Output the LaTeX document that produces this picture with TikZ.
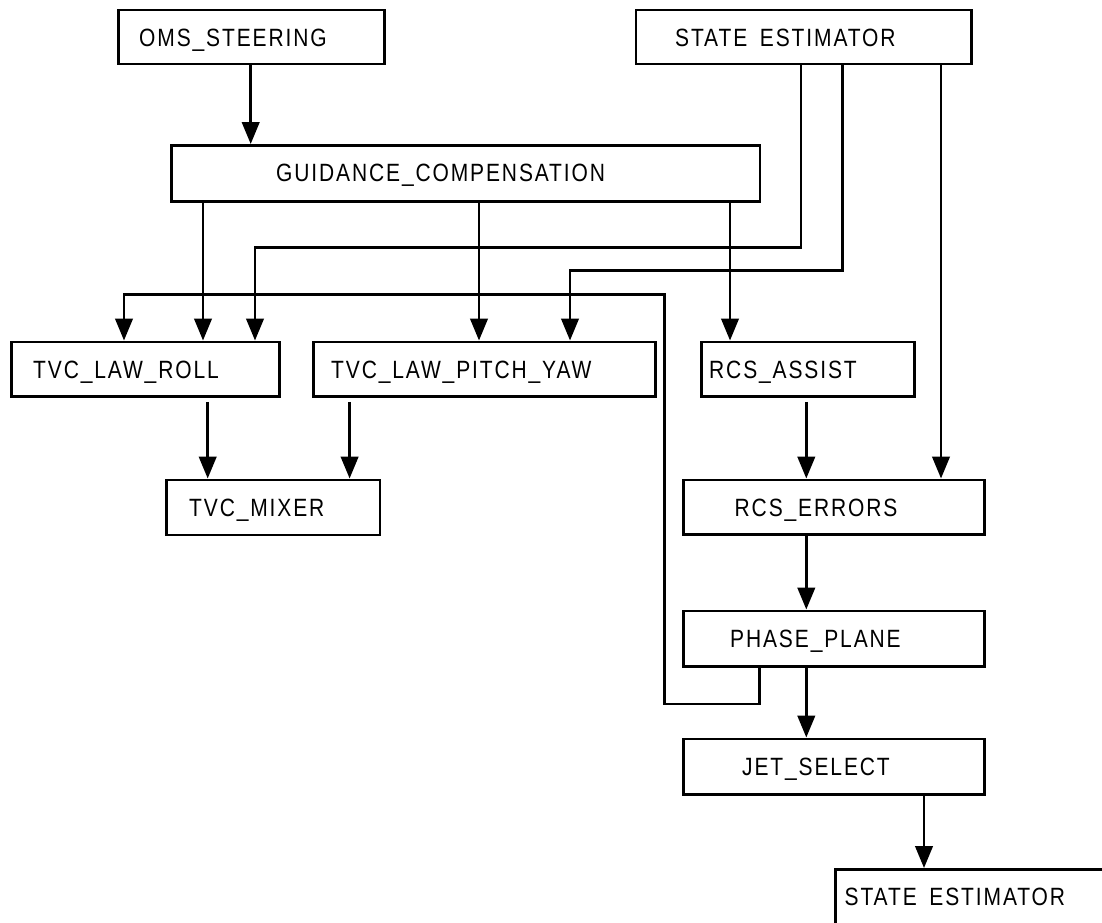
\documentclass[tikz,border=0pt]{standalone}
\usepackage{fontspec}
\setmainfont{Liberation Sans}[FakeStretch=0.84,LetterSpace=7.5]
\usetikzlibrary{arrows.meta}
\tikzset{
  blockbox/.style={draw, line width=2.8pt, rectangle, inner sep=0pt, anchor=north west},
  lbl/.style={anchor=base west, inner sep=0pt, font=\fontsize{25}{28}\selectfont},
  conn/.style={line width=2.7pt},
  arr/.style={conn, -{Triangle[width=17.5pt,length=22pt]}},
}
\begin{document}
\begin{tikzpicture}[x=1pt, y=-1pt]
\useasboundingbox (0,0) rectangle (1102,922);
\clip (0,0) rectangle (1102,922);
\fill[white] (0,0) rectangle (1102,922);

% boxes
\node[blockbox, minimum width=266pt, minimum height=54pt] (oms) at (117,8.5) {};
\node[lbl] at (139,46) {OMS\_STEERING};
\node[blockbox, minimum width=335.5pt, minimum height=54pt] (set) at (634.5,8.5) {};
\node[lbl] at (675,46) {STATE\kern5pt{} ESTIMATOR};
\node[blockbox, minimum width=588.5pt, minimum height=56pt] (gc) at (170,144) {};
\node[lbl] at (276,181.7) {GUIDANCE\_COMPENSATION};
\node[blockbox, minimum width=268pt, minimum height=54.5pt] (tlr) at (10,340.5) {};
\node[lbl] at (33,378) {TVC\_LAW\_ROLL};
\node[blockbox, minimum width=342pt, minimum height=54.5pt] (tlpy) at (312,340.5) {};
\node[lbl] at (331,378) {TVC\_LAW\_PITCH\_YAW};
\node[blockbox, minimum width=212.7pt, minimum height=54.5pt] (ra) at (700,340.5) {};
\node[lbl] at (709,378) {RCS\_ASSIST};
\node[blockbox, minimum width=213.5pt, minimum height=55pt] (tm) at (165,478.5) {};
\node[lbl] at (189,516) {TVC\_MIXER};
\node[blockbox, minimum width=301pt, minimum height=54.5pt] (re) at (682,478.5) {};
\node[lbl] at (734.5,516) {RCS\_ERRORS};
\node[blockbox, minimum width=301pt, minimum height=55.5pt] (pp) at (682,609.5) {};
\node[lbl] at (730,647) {PHASE\_PLANE};
\node[blockbox, minimum width=301pt, minimum height=55.5pt] (js) at (682,737.5) {};
\node[lbl] at (742,775) {JET\_SELECT};
\node[blockbox, minimum width=300pt, minimum height=55pt] (seb) at (834,868) {};
\node[lbl] at (844.5,905.5) {STATE\kern5pt{} ESTIMATOR};

% helper coordinates for connector columns and rows
\coordinate (xa) at (250.7,0);
\coordinate (xb) at (203,0);
\coordinate (xc) at (479,0);
\coordinate (xd) at (730,0);
\coordinate (xe) at (801,0);
\coordinate (xf) at (255,0);
\coordinate (xg) at (842.6,0);
\coordinate (xh) at (570,0);
\coordinate (xi) at (759.5,0);
\coordinate (xj) at (664.4,0);
\coordinate (xk) at (124,0);
\coordinate (xl) at (941,0);
\coordinate (xm) at (207.7,0);
\coordinate (xn) at (349.6,0);
\coordinate (xo) at (806.3,0);
\coordinate (xp) at (924,0);
\coordinate (ya) at (0,247.3);
\coordinate (yb) at (0,270.7);
\coordinate (yc) at (0,294.7);
\coordinate (yd) at (0,704);

% connectors
\draw[arr] (oms.south -| xa) -- (gc.north -| xa);
\draw[arr] (gc.south -| xb) -- (tlr.north -| xb);
\draw[arr] (gc.south -| xc) -- (tlpy.north -| xc);
\draw[arr] (gc.south -| xd) -- (ra.north -| xd);
\draw[arr] (set.south -| xe) |- (ya -| xf) -- (tlr.north -| xf);
\draw[arr] (set.south -| xg) |- (yb -| xh) -- (tlpy.north -| xh);
\draw[arr] (pp.south -| xi) |- (yd -| xj) |- (yc -| xk) -- (tlr.north -| xk);
\draw[arr] (set.south -| xl) -- (re.north -| xl);
\draw[arr, shorten <=4pt] (tlr.south -| xm) -- (tm.north -| xm);
\draw[arr, shorten <=4pt] (tlpy.south -| xn) -- (tm.north -| xn);
\draw[arr, shorten <=4pt] (ra.south -| xo) -- (re.north -| xo);
\draw[arr] (re.south -| xo) -- (pp.north -| xo);
\draw[arr] (pp.south -| xo) -- (js.north -| xo);
\draw[arr] (js.south -| xp) -- (seb.north -| xp);
\end{tikzpicture}
\end{document}
